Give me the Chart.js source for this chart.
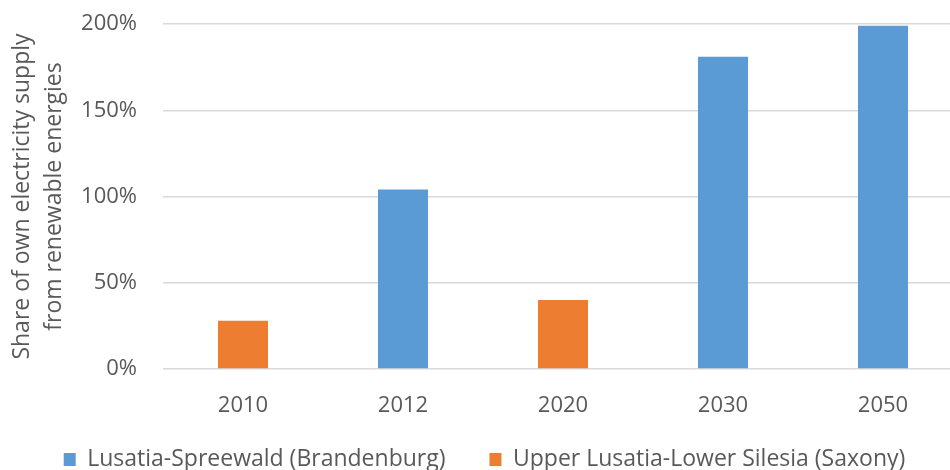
<!DOCTYPE html>
<html>
<head>
<meta charset="utf-8">
<script src="https://cdn.jsdelivr.net/npm/chart.js@4.4.0/dist/chart.umd.min.js"></script>
<style>
  html, body { margin: 0; padding: 0; background: #fff; overflow: hidden; width: 950px; height: 470px; }
  #wrap { width: 970px; height: 470px; position: relative; }
</style>
</head>
<body>
<div id="wrap"><canvas id="c"></canvas></div>
<script>
const categories = ['2010', '2012', '2020', '2030', '2050'];
const brandenburg = [null, 104, null, 181, 199];
const saxony = [28, null, 40, null, null];
const seriesNames = ['Lusatia-Spreewald (Brandenburg)', 'Upper Lusatia-Lower Silesia (Saxony)'];
const yTitle = ['Share of own electricity supply', 'from renewable energies'];

const FONT = '"Open Sans", Lato, sans-serif';
const TEXT = '#595959';

// shift the legend box up a little after layout (legend item spacing and vertical offset share one padding option)
const legendShift = {
  id: 'legendShift',
  afterLayout(chart) {
    const lg = chart.legend;
    if (lg) { lg.top -= 15; lg.bottom -= 15; }
  }
};

new Chart(document.getElementById('c'), {
  type: 'bar',
  data: {
    labels: categories,
    datasets: [
      { label: seriesNames[0], data: brandenburg, backgroundColor: '#5B9BD5', borderWidth: 0 },
      { label: seriesNames[1], data: saxony, backgroundColor: '#ED7D31', borderWidth: 0 }
    ]
  },
  plugins: [legendShift],
  options: {
    responsive: true,
    maintainAspectRatio: false,
    animation: false,
    skipNull: true,
    categoryPercentage: 1,
    barPercentage: 0.3125,
    layout: { padding: { left: 6, right: 7, top: 24, bottom: -26 } },
    plugins: {
      tooltip: { enabled: false },
      legend: {
        position: 'bottom',
        labels: {
          color: TEXT,
          font: { family: FONT, size: 23 },
          boxWidth: 12,
          boxHeight: 13,
          padding: 44
        }
      }
    },
    scales: {
      x: {
        grid: { display: false, drawTicks: false },
        border: { display: false },
        ticks: { color: TEXT, font: { family: FONT, size: 22 }, padding: 24 },
        afterFit: s => { s.height = 50; }
      },
      y: {
        min: 0,
        max: 200,
        grid: { color: '#D9D9D9', lineWidth: 1.5, drawTicks: false },
        border: { display: false },
        ticks: {
          stepSize: 50,
          color: TEXT,
          font: { family: FONT, size: 22 },
          padding: 26,
          callback: v => v + '%'
        },
        title: {
          display: true,
          text: yTitle,
          color: TEXT,
          font: { family: FONT, size: 23, lineHeight: 1.4 },
          padding: { top: 0, bottom: 0 }
        },
        afterFit: s => { s.width = 157; s.paddingTop = 0; s.paddingBottom = 0; }
      }
    }
  }
});
</script>
</body>
</html>
